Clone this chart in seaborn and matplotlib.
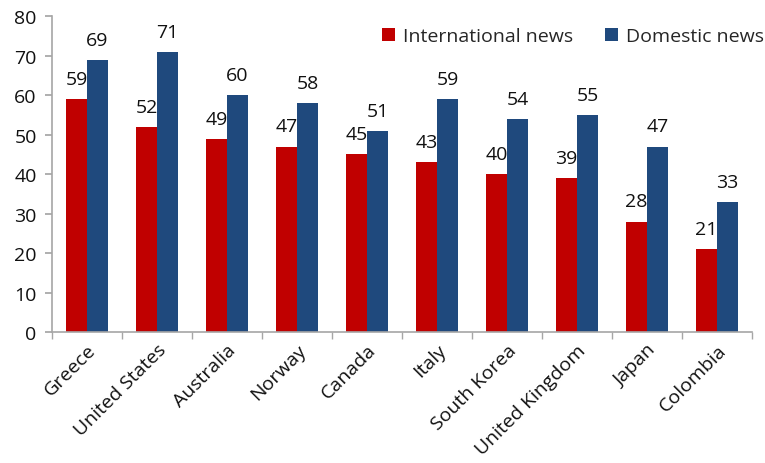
import matplotlib
matplotlib.use("Agg")
import matplotlib.pyplot as plt
import seaborn as sns
import pandas as pd
import numpy as np

countries = ["Greece", "United States", "Australia", "Norway", "Canada",
             "Italy", "South Korea", "United Kingdom", "Japan", "Colombia"]
international = [59, 52, 49, 47, 45, 43, 40, 39, 28, 21]
domestic = [69, 71, 60, 58, 51, 59, 54, 55, 47, 33]
series_names = ["International news", "Domestic news"]
colors = ["#C00000", "#1F497D"]
y_ticks = [0, 10, 20, 30, 40, 50, 60, 70, 80]

df = pd.DataFrame({
    "country": countries * 2,
    "value": international + domestic,
    "series": [series_names[0]] * len(countries) + [series_names[1]] * len(countries),
})

sns.set_theme(style="white")
plt.rcParams["font.family"] = ["Open Sans", "DejaVu Sans"]

fig = plt.figure(figsize=(7.65, 4.64), dpi=100)
ax = fig.add_axes([0.068, 0.282, 0.915, 0.681])

sns.barplot(data=df, x="country", y="value", hue="series", order=countries,
            hue_order=series_names, palette=colors, width=0.6, saturation=1,
            linewidth=0, ax=ax, legend=True)

for cont in ax.containers:
    ax.bar_label(cont, fmt="%d", padding=8, fontsize=14, color="#111111")

ax.set_ylim(0, 80)
ax.set_yticks(y_ticks)
ax.set_xlim(-0.5, len(countries) - 0.5)
ax.set_xlabel("")
ax.set_ylabel("")

for s in ["top", "right"]:
    ax.spines[s].set_visible(False)
for s in ["left", "bottom"]:
    ax.spines[s].set_color("#A6A6A6")
    ax.spines[s].set_linewidth(1.2)

ax.tick_params(axis="y", which="major", length=5, color="#A6A6A6",
               labelsize=14, labelcolor="#111111", direction="out", left=True, pad=6)
ax.tick_params(axis="x", which="major", length=0, labelsize=14,
               labelcolor="#111111", pad=6)
ax.set_xticks(np.arange(-0.5, len(countries)), minor=True)
ax.tick_params(axis="x", which="minor", length=5, color="#A6A6A6",
               direction="out", bottom=True)
plt.setp(ax.get_xticklabels(), rotation=45, ha="right", rotation_mode="anchor")

ax.legend(loc="upper right", bbox_to_anchor=(1.042, 1.02), ncol=2, frameon=False,
          fontsize=14, handlelength=0.7, handleheight=0.7, handletextpad=0.4,
          columnspacing=1.6)

fig.savefig("out.png", dpi=100)
